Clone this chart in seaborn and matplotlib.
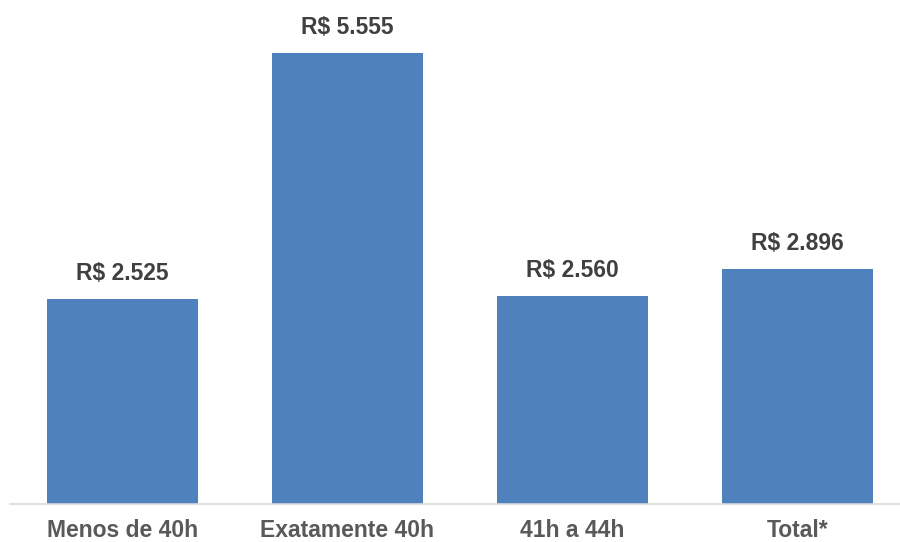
import matplotlib
matplotlib.use("Agg")
import matplotlib.pyplot as plt
import seaborn as sns
import pandas as pd

categories = ["Menos de 40h", "Exatamente 40h", "41h a 44h", "Total*"]
values = [2525, 5555, 2560, 2896]
labels = ["R$ 2.525", "R$ 5.555", "R$ 2.560", "R$ 2.896"]

sns.set_theme(style="white")
plt.rcParams['font.family'] = ['Liberation Sans', 'DejaVu Sans']

df = pd.DataFrame({"cat": categories, "val": values})

fig = plt.figure(figsize=(9, 5.42), dpi=100)
ax = fig.add_axes([10/900, 38/542, 900/900, 504/542])
sns.barplot(data=df, x="cat", y="val", color="#4F81BD", saturation=1, width=0.67,
            linewidth=0, ax=ax)
ax.set_xlim(-0.5, 3.5)
ax.set_ylim(0, 6208)
for s in ["top", "right", "left"]:
    ax.spines[s].set_visible(False)
ax.spines["bottom"].set_color("#D9D9D9")
ax.spines["bottom"].set_linewidth(1.2)
ax.set_yticks([])
ax.set_xlabel("")
ax.set_ylabel("")
ax.tick_params(axis="x", length=0, pad=11, labelsize=16.5, labelcolor="#595959")
for t in ax.get_xticklabels():
    t.set_fontweight("bold")
ax.bar_label(ax.containers[0], labels=labels, padding=10, fontsize=16.5, fontweight="bold", color="#404040")
fig.savefig("out.png", dpi=100)
